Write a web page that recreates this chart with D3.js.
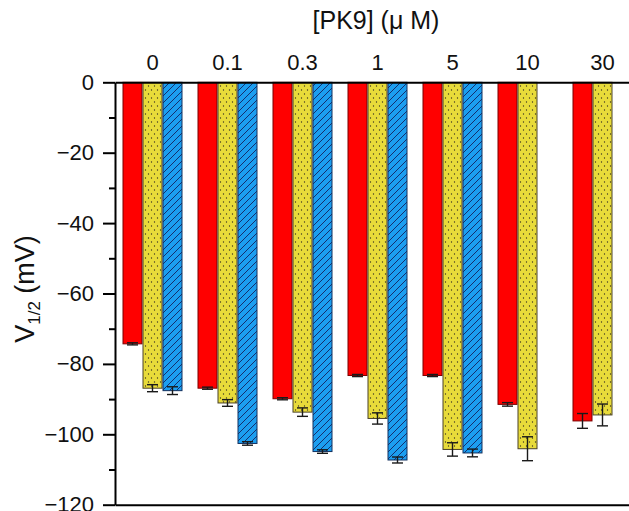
<!DOCTYPE html>
<html>
<head>
<meta charset="utf-8">
<script src="https://cdn.jsdelivr.net/npm/d3@7"></script>
<style>
  html, body { margin: 0; padding: 0; background: #fff; }
  svg { display: block; }
  text { font-family: "Liberation Sans", Arial, sans-serif; fill: #111; }
</style>
</head>
<body>
<svg id="chart" width="629" height="511"></svg>
<script>
// ---- data ----
const categories = ["0", "0.1", "0.3", "1", "5", "10", "30"];
const seriesNames = ["red", "yellow", "blue"];
const redValues    = [-74.3, -86.9, -89.9, -83.3, -83.3, -91.5, -96.2];
const redErrors    = [0.3, 0.3, 0.3, 0.3, 0.3, 0.5, 2.1];
const yellowValues = [-86.9, -91.1, -93.7, -95.5, -104.3, -104.1, -94.5];
const yellowErrors = [1.0, 0.95, 1.2, 1.6, 1.9, 3.4, 3.1];
const blueValues   = [-87.6, -102.6, -104.9, -107.3, -105.3, null, null];
const blueErrors   = [1.1, 0.5, 0.5, 0.85, 1.1, null, null];
const yMajorTicks = [0, -20, -40, -60, -80, -100, -120];
const yMinorTicks = [-10, -30, -50, -70, -90, -110];
const xTitle = "[PK9] (\u03BC M)";

const svg = d3.select("#chart");
const defs = svg.append("defs");
const FONT = "Liberation Sans, Arial, sans-serif";

// patterns
const dots = defs.append("pattern").attr("id", "dots")
  .attr("patternUnits", "userSpaceOnUse").attr("width", 6).attr("height", 8);
dots.append("rect").attr("width", 6).attr("height", 8).attr("fill", "#e8db3a");
dots.append("circle").attr("cx", 1.5).attr("cy", 2).attr("r", 0.65).attr("fill", "#3a3320");
dots.append("circle").attr("cx", 4.5).attr("cy", 6).attr("r", 0.65).attr("fill", "#3a3320");

const hatch = defs.append("pattern").attr("id", "hatch")
  .attr("patternUnits", "userSpaceOnUse").attr("width", 7).attr("height", 7);
hatch.append("rect").attr("width", 7).attr("height", 7).attr("fill", "#1c9ef0");
hatch.append("path").attr("d", "M0,7 L7,0 M-1,1 L1,-1 M6,8 L8,6")
  .attr("stroke", "#14306e").attr("stroke-width", 1);

const fills = { red: "#ff0000", yellow: "url(#dots)", blue: "url(#hatch)" };
const strokes = { red: "#7a0000", yellow: "#4a4228", blue: "#12305e" };

// scales
const x0 = d3.scaleBand().domain(categories).range([115, 640]).paddingInner(0.2).paddingOuter(0.1);
const x1 = d3.scaleBand().domain(seriesNames).range([0, x0.bandwidth()]);
const y = d3.scaleLinear().domain([0, -120]).range([82.3, 504.7]);

const rows = [];
categories.forEach((c, i) => {
  rows.push({ cat: c, s: "red", v: redValues[i], e: redErrors[i] });
  rows.push({ cat: c, s: "yellow", v: yellowValues[i], e: yellowErrors[i] });
  if (blueValues[i] !== null) rows.push({ cat: c, s: "blue", v: blueValues[i], e: blueErrors[i] });
});

// bars
svg.append("g").selectAll("rect").data(rows).join("rect")
  .attr("x", d => x0(d.cat) + x1(d.s) + 0.5)
  .attr("y", y(0))
  .attr("width", x1.bandwidth() - 1)
  .attr("height", d => y(d.v) - y(0))
  .attr("fill", d => fills[d.s])
  .attr("stroke", d => strokes[d.s])
  .attr("stroke-width", 1);

// error bars
const eg = svg.append("g").attr("stroke", "#1a1a1a").attr("stroke-width", 1.4).attr("fill", "none");
rows.forEach(d => {
  const cx = x0(d.cat) + x1(d.s) + x1.bandwidth() / 2;
  const y1 = y(d.v - d.e), y2 = y(d.v + d.e);
  eg.append("line").attr("x1", cx).attr("x2", cx).attr("y1", y1).attr("y2", y2);
  eg.append("line").attr("x1", cx - 5.5).attr("x2", cx + 5.5).attr("y1", y1).attr("y2", y1);
  eg.append("line").attr("x1", cx - 5.5).attr("x2", cx + 5.5).attr("y1", y2).attr("y2", y2);
});

// left axis - major
const yAxis = svg.append("g").attr("transform", "translate(115,0)")
  .call(d3.axisLeft(y).tickValues(yMajorTicks).tickSize(12).tickSizeOuter(0).tickPadding(9)
    .tickFormat(d3.format("d")));
yAxis.selectAll("text").attr("font-size", 22).attr("font-family", FONT).attr("fill", "#111");
yAxis.selectAll("line, path").attr("stroke", "#000").attr("stroke-width", 2);

// left axis - minor
const yMinor = svg.append("g").attr("transform", "translate(115,0)")
  .call(d3.axisLeft(y).tickValues(yMinorTicks).tickSize(6).tickSizeOuter(0).tickFormat(""));
yMinor.select("path").remove();
yMinor.selectAll("line").attr("stroke", "#000").attr("stroke-width", 2);

// top axis (category labels)
const xAxis = svg.append("g").attr("transform", `translate(0,${y(0)})`)
  .call(d3.axisTop(x0).tickSize(0).tickSizeOuter(0).tickPadding(12));
xAxis.selectAll("text").attr("font-size", 22).attr("font-family", FONT).attr("fill", "#111");
xAxis.select("path").attr("stroke", "#000").attr("stroke-width", 2);

// bottom frame line
const xBottom = svg.append("g").attr("transform", `translate(0,${y(-120)})`)
  .call(d3.axisBottom(x0).tickSize(0).tickSizeOuter(0).tickFormat(""));
xBottom.select("path").attr("stroke", "#000").attr("stroke-width", 2);

// titles
svg.append("text").attr("x", 376).attr("y", 29).attr("text-anchor", "middle")
  .attr("font-size", 25).text(xTitle);

const yl = svg.append("text").attr("transform", "translate(34,289) rotate(-90)")
  .attr("text-anchor", "middle").attr("font-size", 27);
yl.append("tspan").text("V");
yl.append("tspan").attr("font-size", 17).attr("dy", 6).text("1/2");
yl.append("tspan").attr("dy", -6).text(" (mV)");
</script>
</body>
</html>
